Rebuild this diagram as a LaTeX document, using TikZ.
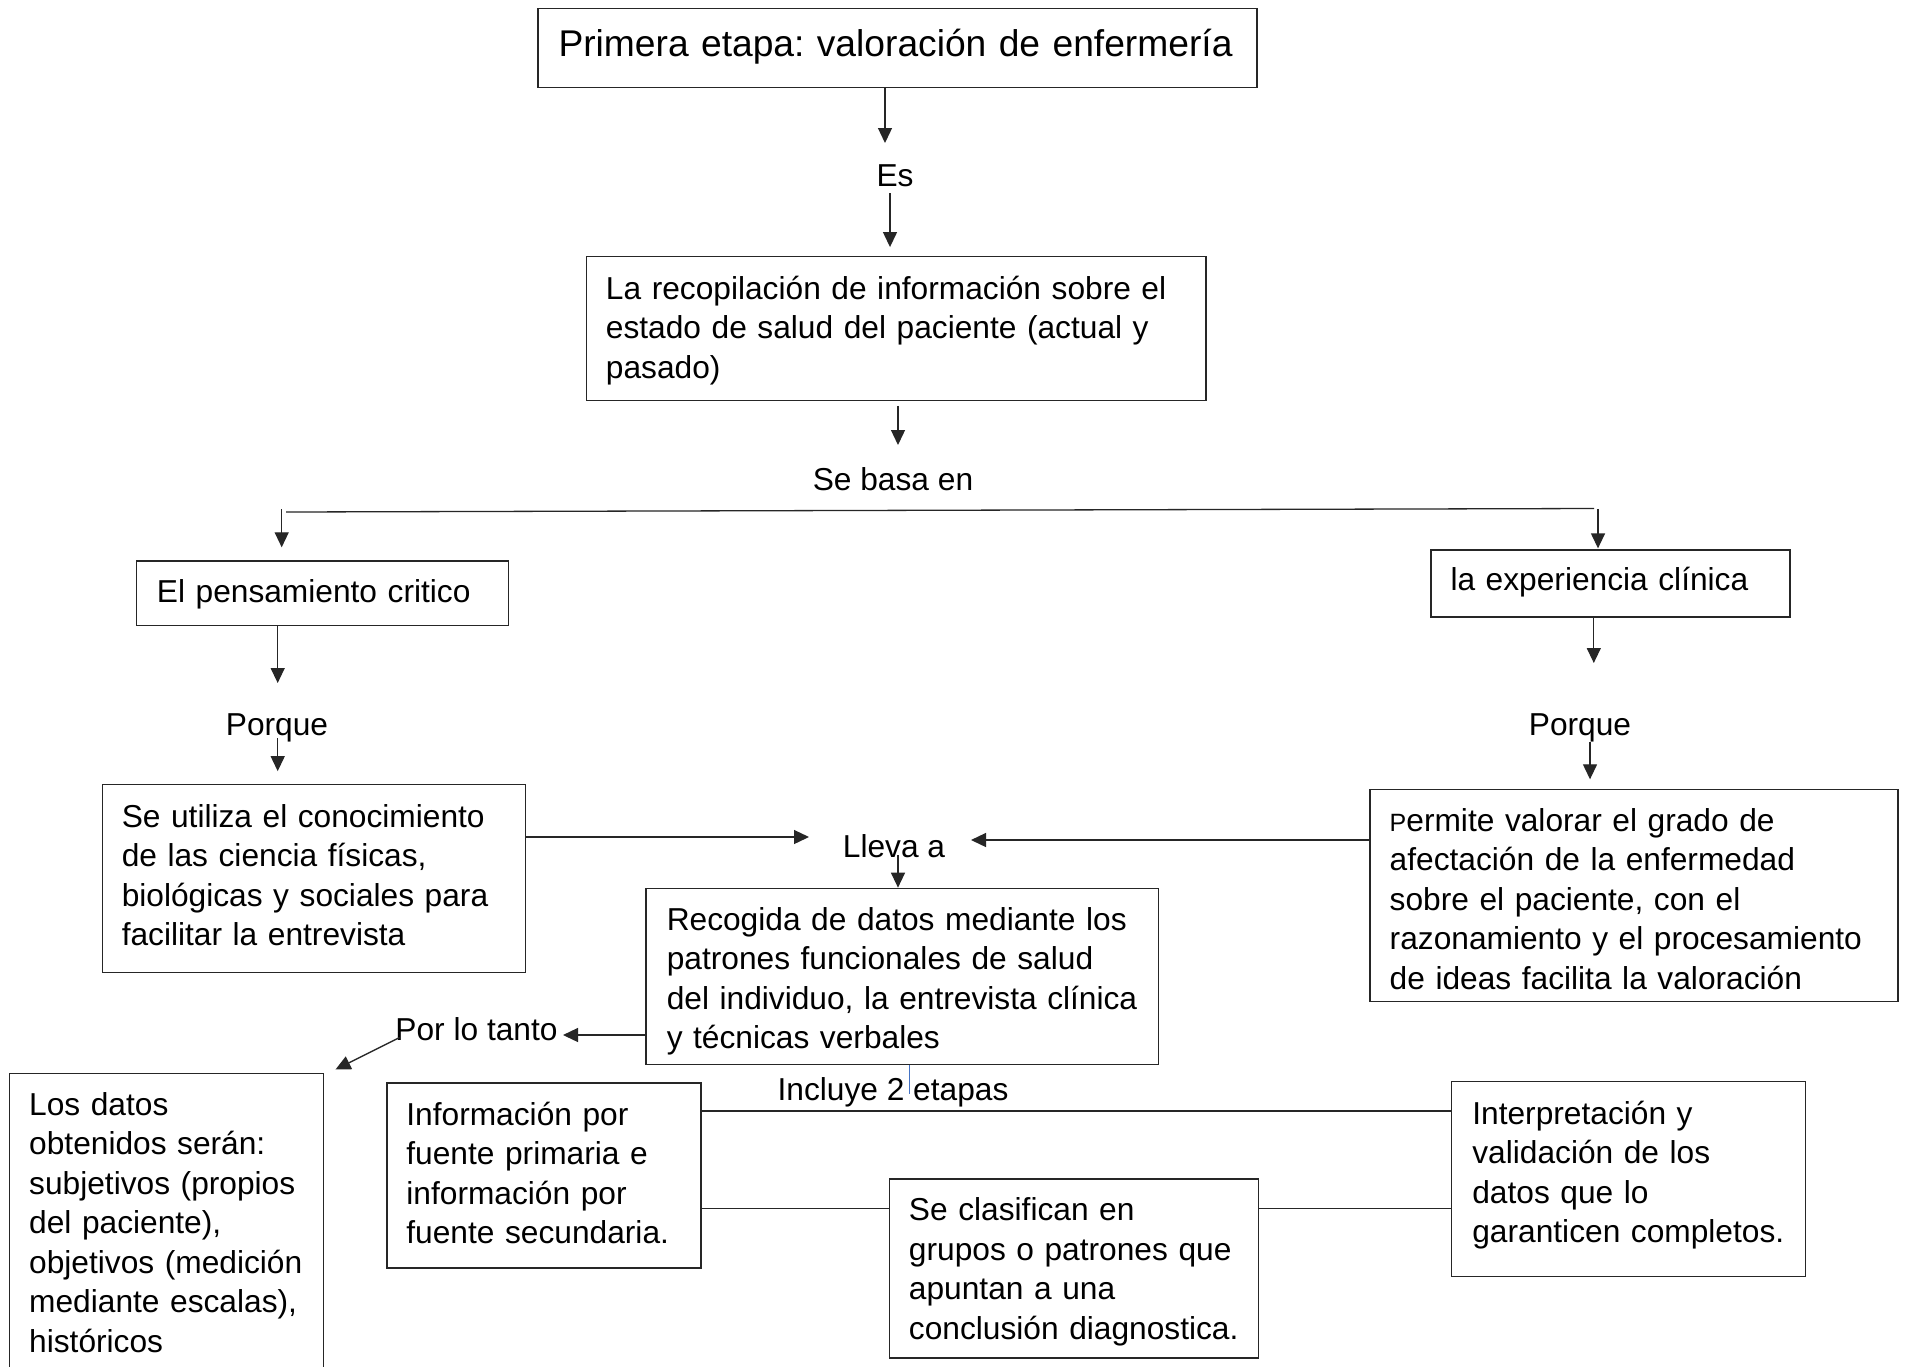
\documentclass[tikz,border=0pt]{standalone}
\usepackage{fontspec}
\setmainfont{Liberation Sans}
\usetikzlibrary{arrows.meta,calc}
\frenchspacing
\newcommand\bodyfont{\fontsize{31.7}{39.5}\selectfont}
\newcommand\titlefont{\fontsize{37.2}{44}\selectfont}
\newcommand\boxlines[2][0pt]{\raisebox{#1}[\height][\depth]{\begin{tabular}{@{}l@{}}#2\end{tabular}}}
\definecolor{bline}{RGB}{68,114,196}
\begin{document}
\begin{tikzpicture}[x=1pt,y=-1pt,
  box/.style={draw=black!85, line width=1.3pt, rectangle, inner ysep=0pt, align=left, font=\bodyfont},
  lbl/.style={inner sep=0pt, font=\bodyfont, text height=23pt, text depth=0pt},
  arr/.style={draw=black!85, line width=1.3pt, -{Triangle[width=14pt,length=15pt]}},
  ln/.style={draw=black!85, line width=1.3pt}]
\fill[white] (0,0) rectangle (1908,1366);
\clip (0,0) rectangle (1908,1366);

% boxes
\node[box, font=\titlefont, minimum width=719pt, minimum height=79pt, text width=678pt, inner xsep=20.5pt] (title) at (897.5,48) {\boxlines{Primera etapa: valoración de enfermería}};
\node[box, minimum width=619.5pt, minimum height=143.6pt, text width=580.5pt, inner xsep=19.5pt] (rec) at (896.2,328.5) {\boxlines[-2.4pt]{La recopilación de información sobre el\\estado de salud del paciente (actual y\\pasado)}};
\node[box, minimum width=372.3pt, minimum height=64.5pt, text width=331pt, inner xsep=20.7pt] (pens) at (322.4,593.2) {\boxlines[-1pt]{El pensamiento critico}};
\node[box, minimum width=359pt, minimum height=67pt, text width=320pt, inner xsep=19.5pt] (exp) at (1610.5,583.5) {\boxlines[1pt]{la experiencia clínica}};
\node[box, minimum width=423.5pt, minimum height=187.4pt, text width=384.5pt, inner xsep=19.5pt] (util) at (314,878.5) {\boxlines{Se utiliza el conocimiento\\de las ciencia físicas,\\biológicas y sociales para\\facilitar la entrevista}};
\node[box, minimum width=528pt, minimum height=211.7pt, text width=488.8pt, inner xsep=19.6pt] (perm) at (1634.1,895.5) {\boxlines[-7pt]{{\fontsize{25}{39.5}\selectfont P}ermite valorar el grado de\\afectación de la enfermedad\\sobre el paciente, con el\\razonamiento y el procesamiento\\de ideas facilita la valoración}};
\node[box, minimum width=512.3pt, minimum height=176.4pt, text width=470.9pt, inner xsep=20.7pt] (recog) at (902.2,976.5) {\boxlines[-5pt]{Recogida de datos mediante los\\patrones funcionales de salud\\del individuo, la entrevista clínica\\y técnicas verbales}};
\node[box, minimum width=314pt, minimum height=298.2pt, text width=275pt, inner xsep=19.5pt] (datos) at (166.7,1222.3) {\boxlines[-3.6pt]{Los datos\\obtenidos serán:\\subjetivos (propios\\del paciente),\\objetivos (medición\\mediante escalas),\\históricos}};
\node[box, minimum width=314pt, minimum height=184.9pt, text width=275pt, inner xsep=19.5pt] (info) at (543.9,1175.5) {\boxlines[-1pt]{Información por\\fuente primaria e\\información por\\fuente secundaria.}};
\node[box, minimum width=354.1pt, minimum height=194.7pt, text width=312.7pt, inner xsep=20.7pt] (interp) at (1628.7,1179) {\boxlines[3.6pt]{Interpretación y\\validación de los\\datos que lo\\garanticen completos.}};
\node[box, minimum width=368.7pt, minimum height=178.9pt, text width=329.7pt, inner xsep=19.5pt] (clasif) at (1073.8,1268.5) {\boxlines[-3.6pt]{Se clasifican en\\grupos o patrones que\\apuntan a una\\conclusión diagnostica.}};

% labels
\node[lbl] (es) at (895,174.5) {Es};
\node[lbl] (sebasa) at (893,479.4) {Se basa en};
\node[lbl] (pqL) at (277,724) {Porque};
\node[lbl] (pqR) at (1580,724) {Porque};
\node[lbl] (lleva) at (894,846) {Lleva a};
\node[lbl] (ptanto) at (476.5,1029) {Por lo tanto};

% coordinates
\coordinate (t1) at (885,143);
\coordinate (es2) at (890,193);
\coordinate (sb1) at (898,445);
\coordinate (brL) at (286,512);
\coordinate (brR) at (1594,508.5);
\coordinate (brLv) at (281.7,509);
\coordinate (brRv) at (1598,509);
\coordinate (pqL1) at (277.7,683);
\coordinate (pqL2) at (277.7,738);
\coordinate (pqR1) at (1593.8,663);
\coordinate (pqR2) at (1590,741.7);
\coordinate (llL) at (809,837);
\coordinate (llR) at (971,840);
\coordinate (llD) at (898,855);
\coordinate (ptR) at (563,1035);
\coordinate (ptS) at (399.6,1037.5);
\coordinate (ptT) at (335.5,1069.5);
\coordinate (inc) at (909.6,1094);
\coordinate (l1) at (0,1111);
\coordinate (l2) at (0,1208.5);

% connectors
\draw[arr] (title.south -| t1) -- (t1);
\draw[arr, shorten >=9pt] (es2) -- (es2 |- rec.north);
\draw[arr] ([yshift=-5pt]rec.south -| sb1) -- (sb1);
\draw[ln] (brL) -- (brR);
\draw[arr, shorten >=13pt] (brLv) -- (brLv |- pens.north);
\draw[arr, shorten >=1pt] (brRv) -- (brRv |- exp.north);
\draw[arr] (pens.south -| pqL1) -- (pqL1);
\draw[arr, shorten >=13pt] (pqL2) -- (pqL2 |- util.north);
\draw[arr] (exp.south -| pqR1) -- (pqR1);
\draw[arr, shorten >=9.7pt] (pqR2) -- (pqR2 |- perm.north);
\draw[arr] (util.east |- llL) -- (llL);
\draw[arr] (perm.west |- llR) -- (llR);
\draw[arr] (llD) -- (llD |- recog.north);
\draw[arr] (recog.west |- ptR) -- (ptR);
\draw[arr] (ptS) -- (ptT);
\draw[bline, line width=0.8pt] (recog.south -| inc) -- (inc);
\node[lbl] (incl) at (893,1089) {Incluye 2 etapas};
\draw[ln] (info.east |- l1) -- (interp.west |- l1);
\draw[ln] (info.east |- l2) -- (clasif.west |- l2);
\draw[ln] (clasif.east |- l2) -- (interp.west |- l2);
\end{tikzpicture}
\end{document}
